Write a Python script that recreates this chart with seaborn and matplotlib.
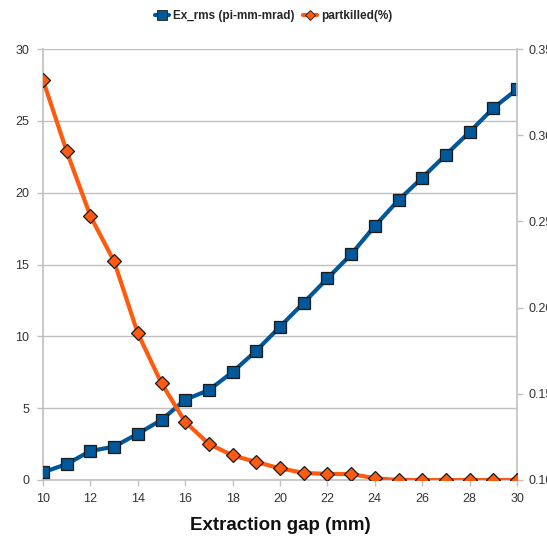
import matplotlib
matplotlib.use("Agg")
import matplotlib.pyplot as plt
import seaborn as sns
import pandas as pd
from matplotlib.lines import Line2D

gap_mm = [10, 11, 12, 13, 14, 15, 16, 17, 18, 19, 20,
          21, 22, 23, 24, 25, 26, 27, 28, 29, 30]
ex_rms = [0.53, 1.11, 2.02, 2.32, 3.22, 4.18, 5.59, 6.26, 7.52, 9.0, 10.67,
          12.34, 14.03, 15.70, 17.68, 19.48, 21.04, 22.64, 24.22, 25.89, 27.19]
partkilled = [0.332, 0.2906, 0.2531, 0.2268, 0.1851, 0.1561, 0.1337, 0.1209,
              0.1143, 0.1104, 0.1068, 0.1041, 0.1035, 0.1035, 0.1010,
              0.1000, 0.1000, 0.1000, 0.1000, 0.1000, 0.1000]
x_ticks = [10, 12, 14, 16, 18, 20, 22, 24, 26, 28, 30]
left_ticks = [0, 5, 10, 15, 20, 25, 30]
right_ticks = [0.10, 0.15, 0.20, 0.25, 0.30, 0.35]
right_labels = ["0.10", "0.15", "0.20", "0.25", "0.30", "0.35"]
series_names = ["Ex_rms (pi-mm-mrad)", "partkilled(%)"]
x_title = "Extraction gap (mm)"

df = pd.DataFrame({"gap": gap_mm, "ex": ex_rms, "pk": partkilled})

sns.set_style("white")
plt.rcParams['font.family'] = ['Liberation Sans', 'DejaVu Sans']

BLUE = "#00589a"
ORANGE = "#ff5a0e"
GRID = "#c0c0c0"
TXT = "#333333"
EDGE = "#1a1a1a"

fig = plt.figure(figsize=(5.47, 5.38), dpi=100)
ax = fig.add_axes([43/547, 1-480/538, (517-43)/547, (480-49)/538])
ax2 = ax.twinx()

sns.lineplot(data=df, x="gap", y="ex", ax=ax, color=BLUE, lw=3.0,
             marker="s", markersize=8.8, markerfacecolor=BLUE,
             markeredgecolor=EDGE, markeredgewidth=0.9, zorder=3)
sns.lineplot(data=df, x="gap", y="pk", ax=ax2, color=ORANGE, lw=3.0,
             marker="D", markersize=7.2, markerfacecolor=ORANGE,
             markeredgecolor=EDGE, markeredgewidth=0.9, zorder=3)

ax.set_xlim(10, 30)
ax.set_ylim(0, 30)
ax2.set_ylim(0.10, 0.35)
ax.set_xticks(x_ticks)
ax.set_yticks(left_ticks)
ax2.set_yticks(right_ticks)
ax2.set_yticklabels(right_labels)

ax.yaxis.grid(True, color=GRID, lw=1)
ax.xaxis.grid(False)
ax.set_axisbelow(True)
ax2.grid(False)

for a in (ax, ax2):
    for s in a.spines.values():
        s.set_visible(False)
ax.spines["left"].set_visible(True)
ax.spines["left"].set_color(GRID)
ax.spines["left"].set_linewidth(1.2)
ax2.spines["right"].set_visible(True)
ax2.spines["right"].set_color(GRID)
ax2.spines["right"].set_linewidth(1.2)
ax.spines["bottom"].set_visible(True)
ax.spines["bottom"].set_color(GRID)
ax.spines["bottom"].set_linewidth(1.2)

ax.tick_params(axis="x", direction="out", length=4, width=1, color=GRID,
               labelsize=9, labelcolor=TXT, pad=5, bottom=True)
ax.tick_params(axis="y", direction="out", length=4, width=1, color=GRID,
               labelsize=9, labelcolor=TXT, pad=6, left=True)
ax2.tick_params(axis="y", direction="out", length=4, width=1, color=GRID,
                labelsize=9, labelcolor=TXT, pad=4, right=True)

ax.set_xlabel(x_title, fontsize=13.5, fontweight="bold", color="#111111",
              labelpad=9)
ax.set_ylabel("")
ax2.set_ylabel("")

handles = [
    Line2D([], [], color=BLUE, lw=3.0, marker="s", markersize=6.5,
           markerfacecolor=BLUE, markeredgecolor=EDGE, markeredgewidth=0.6),
    Line2D([], [], color=ORANGE, lw=3.0, marker="D", markersize=5.5,
           markerfacecolor=ORANGE, markeredgecolor=EDGE, markeredgewidth=0.6),
]
fig.legend(handles, series_names, loc="center", bbox_to_anchor=(0.5, 1-16/538),
           ncol=2, frameon=False, prop={"weight": "bold", "size": 8.5},
           handlelength=1.2, handletextpad=0.35, columnspacing=0.7)

fig.savefig("out.png", dpi=100)
